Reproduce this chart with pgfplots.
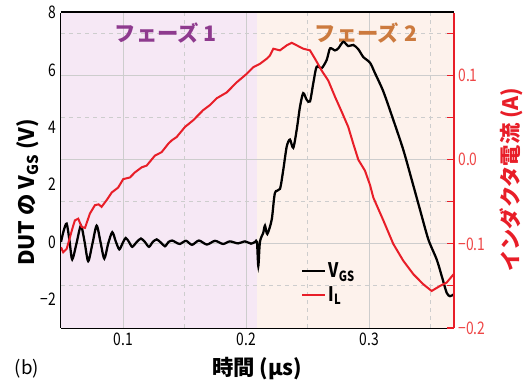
\documentclass[border=0pt]{standalone}
\usepackage{pgfplots}
\pgfplotsset{compat=1.18}
\usepackage{fontspec}
\setmainfont{Noto Sans CJK JP}
\newfontfamily\condfont{Noto Sans CJK JP}[FakeStretch=0.8]
\definecolor{pA}{RGB}{246,232,245}
\definecolor{pB}{RGB}{253,242,236}
\definecolor{purp}{RGB}{142,58,142}
\definecolor{oran}{RGB}{204,122,62}
\definecolor{myred}{RGB}{232,30,40}
\definecolor{tickred}{RGB}{238,70,70}
\definecolor{gridc}{RGB}{205,205,205}
\begin{document}
\begin{tikzpicture}
\path[use as bounding box] (-45.75pt,-42.75pt) rectangle (353.25pt,246pt);
\begin{axis}[
  name=ax1, at={(0,0)}, anchor=south west, scale only axis,
  width=294.5pt, height=236.6pt,
  xmin=0.0494, xmax=0.3686, ymin=-3, ymax=8,
  axis y line*=left,
  tick align=inside,
  xtick={0.1,0.2,0.3}, xticklabels={0.1,0.2,0.3},
  minor xtick={0.05,0.15,0.25,0.35},
  ytick={-2,0,2,4,6,8}, yticklabels={−2,0,2,4,6,8},
  minor ytick={-3,-1,1,3,5,7},
  tick label style={font=\condfont\fontsize{13}{15}\selectfont},
  axis line style={line width=1.6pt},
  major tick length=5pt, minor tick length=4pt,
  tick style={line width=0.8pt, black},
  xlabel={\bfseries 時間 (μs)},
  xlabel style={at={(axis description cs:0.5,-0.127)}, anchor=center, font=\fontsize{16}{18}\selectfont},
  ylabel={\bfseries DUT の V\textsubscript{GS} (V)},
  ylabel style={at={(axis description cs:-0.084,0.43)}, anchor=center, rotate=0, font=\fontsize{16}{18}\selectfont},
  legend style={at={(0.60,0.143)}, anchor=west, draw=none, fill=none,
    font=\condfont\bfseries\fontsize{15}{17}\selectfont, row sep=1pt},
  legend cell align=left,
]
\addplot[draw=none, fill=pA, forget plot] coordinates {(0.0494,-3) (0.0494,8) (0.2085,8) (0.2085,-3)} -- cycle;
\addplot[draw=none, fill=pB, forget plot] coordinates {(0.2085,-3) (0.2085,8) (0.3686,8) (0.3686,-3)} -- cycle;
\pgfplotsinvokeforeach{0.1,0.2,0.3}{\draw[gridc, line width=0.7pt] (axis cs:#1,-3) -- (axis cs:#1,8);}
\pgfplotsinvokeforeach{0.15,0.25,0.35}{\draw[gridc, line width=0.7pt, dashed] (axis cs:#1,-3) -- (axis cs:#1,8);}
\pgfplotsinvokeforeach{5.8,2.8667,-0.0667}{\draw[gridc, line width=0.7pt] (axis cs:0.0494,#1) -- (axis cs:0.3686,#1);}
\pgfplotsinvokeforeach{7.2667,4.3333,1.4,-1.5333}{\draw[gridc, line width=0.7pt, dashed] (axis cs:0.0494,#1) -- (axis cs:0.3686,#1);}
\node[purp, font=\bfseries\fontsize{16}{18}\selectfont] at (axis cs:0.1347,7.29) {フェーズ 1};
\node[oran, font=\bfseries\fontsize{16}{18}\selectfont] at (axis cs:0.2973,7.29) {フェーズ 2};
\addplot[black, line width=1.7pt, smooth, tension=0.45] coordinates {
(0.0494,0.0) (0.0515,0.38) (0.0540,0.64) (0.0563,0.05) (0.0585,-0.61) (0.0620,-0.05)
(0.0656,0.57) (0.0686,0.0) (0.0715,-0.67) (0.0750,-0.05) (0.0784,0.57) (0.0815,0.0)
(0.0846,-0.58) (0.0878,-0.05) (0.0911,0.34) (0.0939,0.02) (0.0968,-0.26) (0.0994,-0.05)
(0.1020,0.14) (0.1047,0.0) (0.1073,-0.17) (0.1110,0.0) (0.1144,0.12) (0.1176,0.0)
(0.1209,-0.17) (0.1240,0.0) (0.1272,0.09) (0.1305,-0.02) (0.1339,-0.15) (0.1368,0.0)
(0.1398,0.05) (0.1430,-0.02) (0.1461,-0.07) (0.1510,0.04) (0.1559,-0.10) (0.1615,0.05)
(0.1680,-0.09) (0.1746,0.04) (0.1811,-0.07) (0.1867,0.02) (0.1933,-0.05) (0.1990,0.02)
(0.2039,-0.06) (0.2071,0.0) (0.2087,0.0) (0.2098,-0.84) (0.2111,0.0) (0.2138,0.32)
(0.2152,0.57) (0.2171,0.28) (0.2207,0.78) (0.2233,1.71) (0.2274,1.85) (0.2301,2.52)
(0.2329,3.33) (0.2355,3.57) (0.2382,3.28) (0.2410,3.91) (0.2437,4.72) (0.2463,5.19)
(0.2491,4.96) (0.2518,4.90) (0.2545,5.54) (0.2572,6.11) (0.2613,6.06) (0.2654,6.35)
(0.2681,6.75) (0.2721,6.68) (0.2748,6.75) (0.2789,6.98) (0.2829,6.83) (0.2870,6.87)
(0.2911,6.72) (0.2951,6.45) (0.3006,6.25) (0.3046,5.89) (0.3114,5.25) (0.3195,4.26)
(0.3276,3.22) (0.3345,2.17) (0.3412,1.13) (0.3480,0.09) (0.3548,-0.61) (0.3589,-1.19)
(0.3629,-1.77) (0.3656,-1.89) (0.3686,-1.83)
};
\addlegendentry{V\textsubscript{GS}}
\addlegendimage{myred, line width=1.5pt}
\addlegendentry{I\textsubscript{L}}
\end{axis}
\begin{axis}[
  at={(0,0)}, anchor=south west, scale only axis,
  width=294.5pt, height=236.6pt,
  xmin=0.0494, xmax=0.3686, ymin=-0.2, ymax=0.175,
  axis x line=none, axis y line*=right,
  tick align=inside,
  ytick={-0.2,-0.1,0,0.1}, yticklabels={−0.2,−0.1,0.0,0.1},
  minor ytick={-0.15,-0.05,0.05,0.15},
  yticklabel style={font=\condfont\fontsize{13}{15}\selectfont, tickred},
  y axis line style={myred, line width=1.6pt},
  ytick style={myred, line width=0.8pt},
  major tick length=5pt, minor tick length=5pt,
  ylabel={\bfseries インダクタ電流 (A)},
  ylabel style={at={(axis description cs:1.148,0.47)}, anchor=center, rotate=0, myred, font=\fontsize{16}{18}\selectfont},
]
\addplot[myred, line width=1.5pt] coordinates {
(0.0494,-0.104) (0.0512,-0.110) (0.0540,-0.106) (0.0567,-0.092) (0.0590,-0.080) (0.0607,-0.072)
(0.0634,-0.070) (0.0662,-0.080) (0.0689,-0.081) (0.0729,-0.064) (0.0770,-0.054) (0.0800,-0.053)
(0.0824,-0.056) (0.0865,-0.048) (0.0906,-0.039) (0.0959,-0.033) (0.1000,-0.023) (0.1055,-0.021)
(0.1095,-0.015) (0.1150,-0.009) (0.1190,-0.007) (0.1258,0.005) (0.1312,0.009) (0.1366,0.019)
(0.1394,0.023) (0.1434,0.027) (0.1502,0.039) (0.1569,0.047) (0.1650,0.059) (0.1705,0.065)
(0.1759,0.073) (0.1841,0.080) (0.1922,0.092) (0.2003,0.102) (0.2057,0.110) (0.2111,0.114)
(0.2166,0.120) (0.2193,0.124) (0.2220,0.132) (0.2274,0.130) (0.2329,0.136) (0.2369,0.139)
(0.2410,0.136) (0.2463,0.132) (0.2518,0.130) (0.2559,0.120) (0.2613,0.106) (0.2667,0.094)
(0.2721,0.075) (0.2776,0.057) (0.2829,0.039) (0.2870,0.019) (0.2911,0.000) (0.2965,-0.013)
(0.3006,-0.030) (0.3033,-0.045) (0.3114,-0.072) (0.3195,-0.100) (0.3276,-0.120) (0.3358,-0.136)
(0.3439,-0.148) (0.3507,-0.156) (0.3575,-0.150) (0.3629,-0.146) (0.3686,-0.136)
};
\end{axis}
\node[font=\fontsize{14}{16}\selectfont] at (-25.5pt,-30.75pt) {(b)};
\end{tikzpicture}
\end{document}
